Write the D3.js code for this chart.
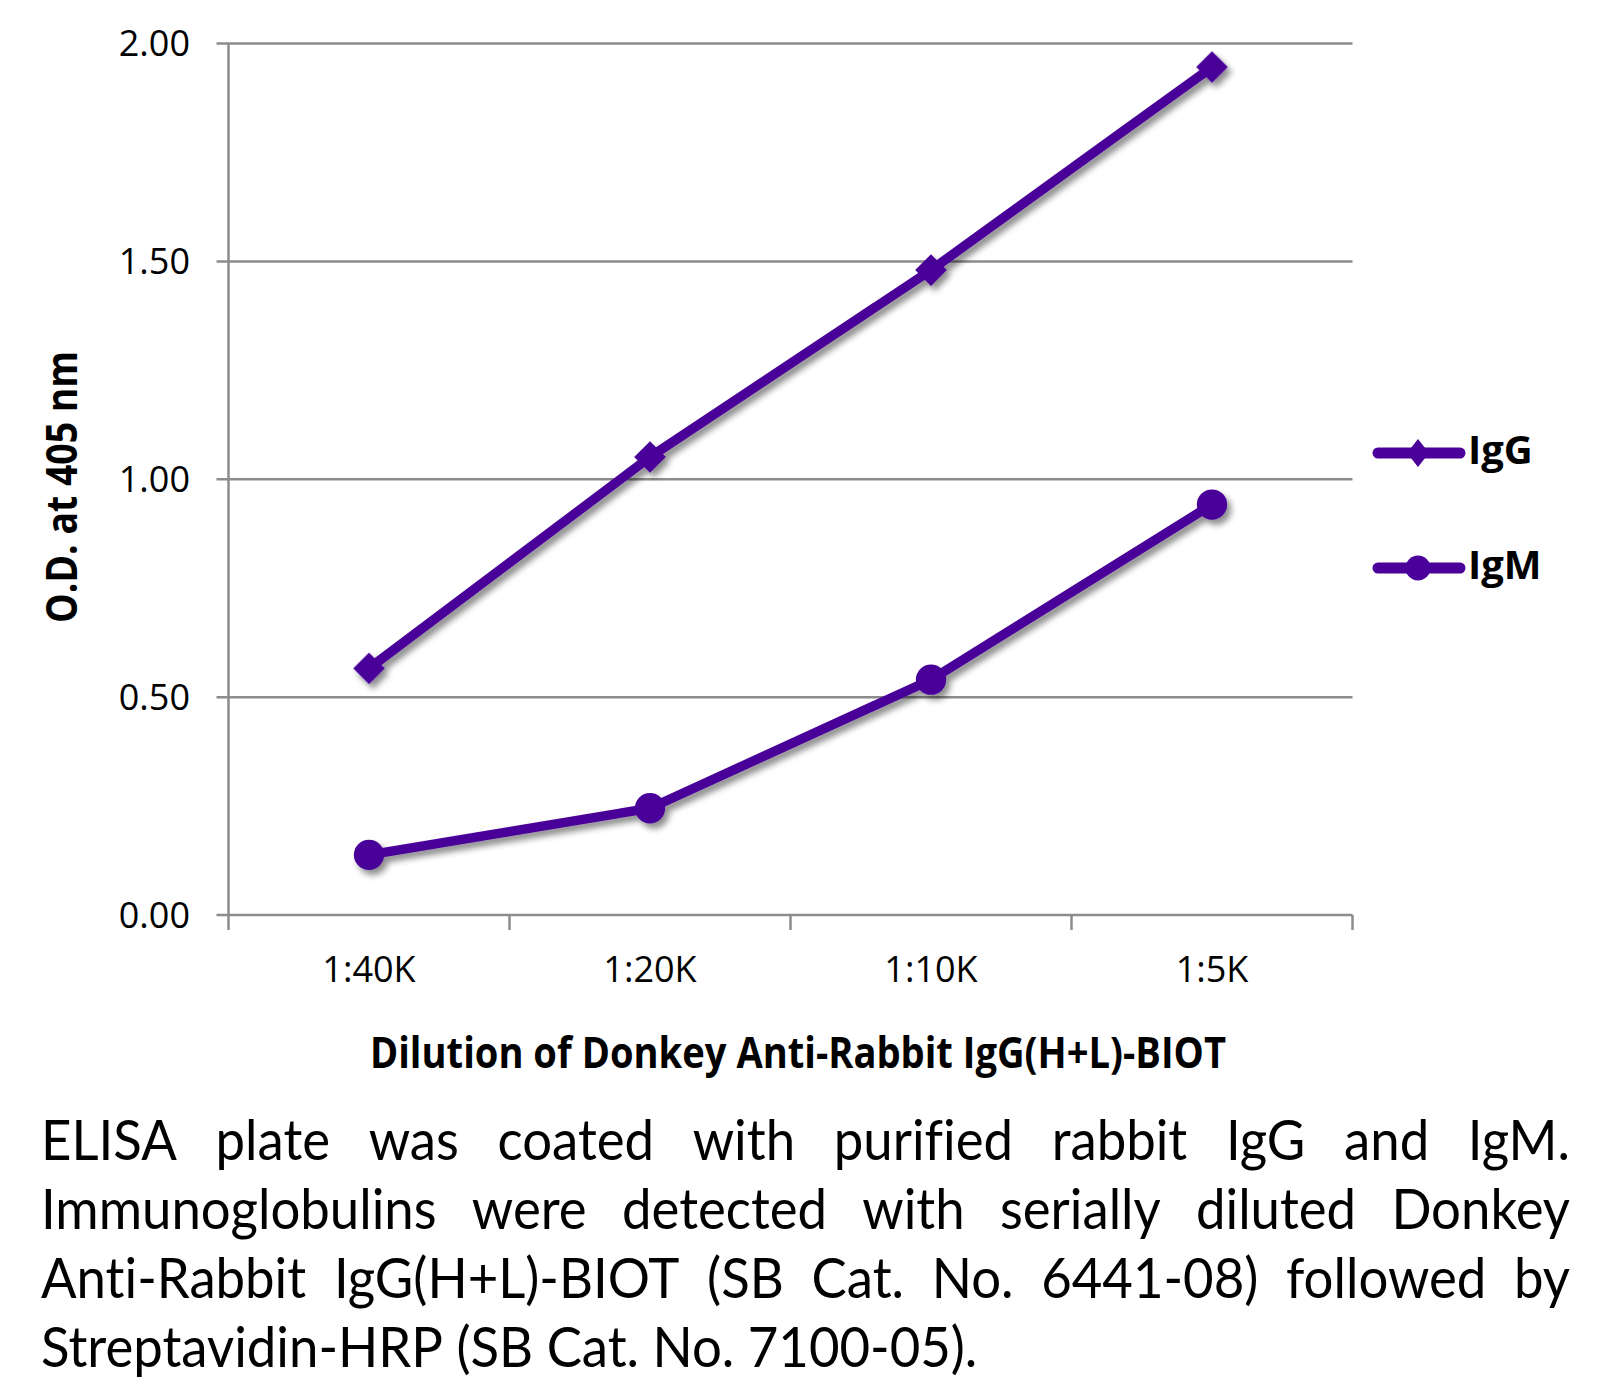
<!DOCTYPE html>
<html>
<head>
<meta charset="utf-8">
<script src="https://cdn.jsdelivr.net/npm/d3@7"></script>
<style>
  html, body { margin: 0; padding: 0; background: #fff; }
  svg { display: block; }
  text { font-variant-ligatures: none; font-feature-settings: "liga" 0, "clig" 0; }
</style>
</head>
<body>
<script>
// ---- data ----
const categories = ["1:40K", "1:20K", "1:10K", "1:5K"];
const igGValues = [0.566, 1.051, 1.480, 1.946];
const igMValues = [0.138, 0.245, 0.540, 0.942];
const seriesNames = ["IgG", "IgM"];
const yTickValues = [0, 0.5, 1.0, 1.5, 2.0];
const yTitle = "O.D. at 405 nm";
const xTitle = "Dilution of Donkey Anti-Rabbit IgG(H+L)-BIOT";
const captionLines = [
  "ELISA plate was coated with purified rabbit IgG and IgM.",
  "Immunoglobulins were detected with serially diluted Donkey",
  "Anti-Rabbit IgG(H+L)-BIOT (SB Cat. No. 6441-08) followed by",
  "Streptavidin-HRP (SB Cat. No. 7100-05)."
];

// ---- layout ----
const W = 1620, H = 1386;
const plot = { left: 228.5, right: 1352.5, top: 43.5, bottom: 915 };
const lineColor = "#4a0099";
const gridColor = "#8c8c8c";
const font = "'Open Sans', 'Noto Sans', sans-serif";
const capFontFamily = "Lato, 'Open Sans', sans-serif";

const svg = d3.select("body").append("svg")
  .attr("width", W).attr("height", H)
  .attr("viewBox", `0 0 ${W} ${H}`);

const defs = svg.append("defs");
const f = defs.append("filter").attr("id", "shadow")
  .attr("x", "-20%").attr("y", "-20%").attr("width", "140%").attr("height", "140%");
f.append("feDropShadow").attr("dx", 4).attr("dy", 5).attr("stdDeviation", 3)
  .attr("flood-color", "#000").attr("flood-opacity", 0.45);

const x = d3.scaleBand().domain(categories).range([plot.left, plot.right]).padding(0);
const y = d3.scaleLinear().domain([0, 2]).range([plot.bottom, plot.top]);
const cx = c => x(c) + x.bandwidth() / 2;

// gridlines (with left tick stubs)
svg.append("g").selectAll("line").data(yTickValues).join("line")
  .attr("x1", plot.left - 12).attr("x2", plot.right)
  .attr("y1", d => y(d)).attr("y2", d => y(d))
  .attr("stroke", gridColor).attr("stroke-width", 2.5);

// y axis line
svg.append("line")
  .attr("x1", plot.left).attr("x2", plot.left)
  .attr("y1", plot.top).attr("y2", plot.bottom)
  .attr("stroke", gridColor).attr("stroke-width", 2.5);

// x-axis category boundary ticks
const boundaries = categories.map(c => x(c)).concat([plot.right]);
svg.append("g").selectAll("line").data(boundaries).join("line")
  .attr("x1", d => d).attr("x2", d => d)
  .attr("y1", plot.bottom).attr("y2", plot.bottom + 15)
  .attr("stroke", gridColor).attr("stroke-width", 2.5);

// y tick labels
svg.append("g").selectAll("text").data(yTickValues).join("text")
  .attr("x", 190).attr("y", d => y(d)).attr("dy", "0.36em")
  .attr("text-anchor", "end")
  .style("font-family", font).style("font-size", "36px").attr("fill", "#000")
  .text(d => d3.format(".2f")(d));

// x tick labels
svg.append("g").selectAll("text").data(categories).join("text")
  .attr("x", d => cx(d)).attr("y", 982)
  .attr("text-anchor", "middle")
  .style("font-family", font).style("font-size", "36px").attr("fill", "#000")
  .text(d => d);

// axis titles
svg.append("text")
  .attr("transform", `translate(77,487) rotate(-90)`)
  .attr("text-anchor", "middle")
  .attr("textLength", 272).attr("lengthAdjust", "spacingAndGlyphs")
  .style("font-family", font).style("font-size", "43px").style("font-weight", "700")
  .text(yTitle);

svg.append("text")
  .attr("x", 370).attr("y", 1068)
  .attr("textLength", 856).attr("lengthAdjust", "spacingAndGlyphs")
  .style("font-family", font).style("font-size", "43px").style("font-weight", "700")
  .text(xTitle);

// series
const series = [
  { name: seriesNames[0], values: igGValues, shape: "diamond" },
  { name: seriesNames[1], values: igMValues, shape: "circle" }
];
const lineGen = d3.line().x(d => cx(d.c)).y(d => y(d.v));
const diamondSym = d3.symbol().type(d3.symbolSquare).size(500);
const circleSym = d3.symbol().type(d3.symbolCircle).size(720);

series.forEach(s => {
  const pts = categories.map((c, i) => ({ c, v: s.values[i] }));
  const g = svg.append("g").attr("filter", "url(#shadow)");
  g.append("path").datum(pts)
    .attr("d", lineGen).attr("fill", "none")
    .attr("stroke", lineColor).attr("stroke-width", 9.5)
    .attr("stroke-linejoin", "round");
  g.selectAll("path.m").data(pts).join("path").attr("class", "m")
    .attr("d", s.shape === "diamond" ? diamondSym() : circleSym())
    .attr("transform", d => `translate(${cx(d.c)},${y(d.v)})` + (s.shape === "diamond" ? " rotate(45)" : ""))
    .attr("fill", lineColor);
});

// legend
const legendY = [453, 568];
const legendDiamond = "M0,-14 L11,0 L0,14 L-11,0 Z";
series.forEach((s, i) => {
  const g = svg.append("g").attr("transform", `translate(0,${legendY[i]})`);
  g.append("line").attr("x1", 1378).attr("x2", 1460).attr("y1", 0).attr("y2", 0)
    .attr("stroke", lineColor).attr("stroke-width", 11).attr("stroke-linecap", "round");
  if (s.shape === "diamond") {
    g.append("path").attr("d", legendDiamond).attr("transform", "translate(1418,0)").attr("fill", lineColor);
  } else {
    g.append("circle").attr("cx", 1418).attr("cy", 0).attr("r", 12.5).attr("fill", lineColor);
  }
  g.append("text").attr("x", 1468).attr("y", 11)
    .style("font-family", font).style("font-size", "40px").style("font-weight", "700")
    .text(s.name);
});

// caption (justified lines, horizontally condensed font)
const capFont = 56, capLeft = 41, capRight = 1570, capBase = [1160, 1229, 1298, 1367];
const lastNatural = 935;
const meas = svg.append("text").style("font-family", capFontFamily).style("font-size", capFont + "px")
  .text(captionLines[3]);
const natural = meas.node().getComputedTextLength();
const sx = lastNatural / natural;
meas.text("a b");
const abW = meas.node().getComputedTextLength();
meas.text("ab");
const spaceW = abW - meas.node().getComputedTextLength();
meas.remove();

captionLines.forEach((line, i) => {
  const g = svg.append("g").attr("transform", `translate(${capLeft},${capBase[i]}) scale(${sx},1)`);
  const words = line.split(" ");
  const texts = words.map(w => g.append("text")
    .style("font-family", capFontFamily).style("font-size", capFont + "px").attr("fill", "#000").text(w));
  const widths = texts.map(t => t.node().getComputedTextLength());
  const total = d3.sum(widths);
  const isLast = i === captionLines.length - 1;
  const gap = isLast ? spaceW : ((capRight - capLeft) / sx - total) / (words.length - 1);
  let cur = 0;
  texts.forEach((t, k) => { t.attr("x", cur); cur += widths[k] + gap; });
});
</script>
</body>
</html>
